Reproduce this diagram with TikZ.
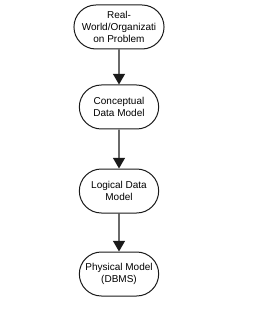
\documentclass[tikz,border=0pt]{standalone}
\usepackage{fontspec}
\setmainfont{Liberation Sans}
\usepackage{tikz}
\usetikzlibrary{arrows.meta,positioning,shapes.misc}
\definecolor{ink}{HTML}{1A1A1A}
\tikzset{
  stagebox/.style={draw=ink,fill=white,line width=0.75pt,rounded rectangle,
                   minimum width=61.5pt,minimum height=33pt,inner sep=1pt,
                   align=center,font=\fontsize{7.5}{9}\selectfont},
  stagearr/.style={-{Triangle[length=8pt,width=9pt]},line width=0.9pt,color=ink}
}

\begin{document}
\begin{tikzpicture}[x=0.75pt,y=-0.75pt]
      \useasboundingbox (0,0) rectangle (265,320);
      \node[stagebox] (problem) at (119,27) {Real-\\World/Organizati\\on Problem};
      \node[stagebox] (concept) at (119,107) {Conceptual\\Data Model};
      \node[stagebox] (logical) at (119,191) {Logical Data\\Model};
      \node[stagebox] (physical) at (119,274) {Physical Model\\(DBMS)};

      \draw[stagearr] (problem) -- (concept);
      \draw[stagearr] (concept) -- (logical);
      \draw[stagearr] (logical) -- (physical);
    \end{tikzpicture}
\end{document}
